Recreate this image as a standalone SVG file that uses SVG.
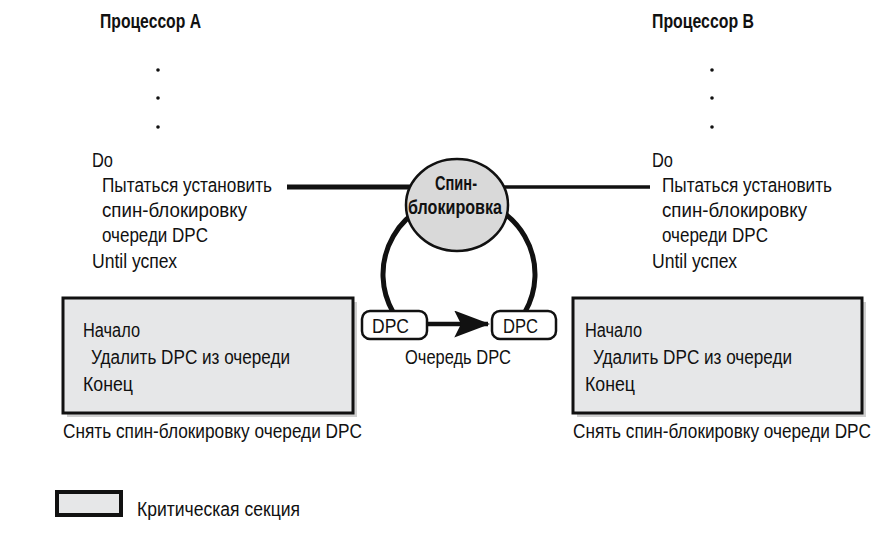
<svg xmlns="http://www.w3.org/2000/svg" width="886" height="534" viewBox="0 0 886 534">
<defs>
<style>
text{font-family:"Liberation Sans Narrow","Liberation Sans",Arial,sans-serif;font-size:20px;fill:#111;}
.b{font-weight:bold;}
.crit{fill:#e6e7e8;stroke:#111;stroke-width:3;}
.shadow{fill:#cfcfcf;}
.dpc{fill:#fff;stroke:#111;stroke-width:2.5;}
</style>
<marker id="ah" markerWidth="8" markerHeight="6" refX="7.5" refY="3" orient="auto" markerUnits="strokeWidth">
<path d="M0,0 L8,3 L0,6 L1.5,3 Z" fill="#111"/>
</marker>
</defs>
<rect width="886" height="534" fill="#fff"/>

<g id="connectors">
<line x1="287" y1="187" x2="420" y2="187" stroke="#111" stroke-width="5"/>
<line x1="495" y1="187" x2="650" y2="187" stroke="#111" stroke-width="3.5"/>
<path d="M393,312 A76,76 0 1 1 525,312" fill="none" stroke="#111" stroke-width="5"/>
<line x1="427" y1="324" x2="488" y2="324" stroke="#111" stroke-width="4.5" marker-end="url(#ah)"/>
</g>

<g id="processor-a">
<text x="100" y="28" class="b" textLength="101" lengthAdjust="spacingAndGlyphs">Процессор A</text>
<circle cx="158" cy="70" r="1.8" fill="#111"/>
<circle cx="158" cy="98" r="1.8" fill="#111"/>
<circle cx="158" cy="127" r="1.8" fill="#111"/>
<text x="92" y="167" textLength="21" lengthAdjust="spacingAndGlyphs">Do</text>
<text x="102" y="192" textLength="170" lengthAdjust="spacingAndGlyphs">Пытаться установить</text>
<text x="102" y="217" textLength="145" lengthAdjust="spacingAndGlyphs">спин-блокировку</text>
<text x="102" y="242" textLength="106" lengthAdjust="spacingAndGlyphs">очереди DPC</text>
<text x="92" y="268" textLength="85" lengthAdjust="spacingAndGlyphs">Until успех</text>
</g>

<g id="processor-b">
<text x="652" y="28" class="b" textLength="102" lengthAdjust="spacingAndGlyphs">Процессор B</text>
<circle cx="712" cy="70" r="1.8" fill="#111"/>
<circle cx="712" cy="98" r="1.8" fill="#111"/>
<circle cx="712" cy="127" r="1.8" fill="#111"/>
<text x="652" y="167" textLength="21" lengthAdjust="spacingAndGlyphs">Do</text>
<text x="662" y="192" textLength="170" lengthAdjust="spacingAndGlyphs">Пытаться установить</text>
<text x="662" y="217" textLength="145" lengthAdjust="spacingAndGlyphs">спин-блокировку</text>
<text x="662" y="242" textLength="106" lengthAdjust="spacingAndGlyphs">очереди DPC</text>
<text x="652" y="268" textLength="85" lengthAdjust="spacingAndGlyphs">Until успех</text>
</g>

<g id="spinlock">
<ellipse cx="457" cy="205" rx="51" ry="46" fill="#d9d9d9" stroke="#111" stroke-width="2.5"/>
<text x="456" y="190" class="b" text-anchor="middle" font-size="20" textLength="42" lengthAdjust="spacingAndGlyphs">Спин-</text>
<text x="455" y="214" class="b" text-anchor="middle" font-size="20" textLength="94" lengthAdjust="spacingAndGlyphs">блокировка</text>
</g>

<g id="dpc-1">
<rect x="362" y="311" width="65" height="28" rx="8" class="dpc"/>
<text x="372" y="333" textLength="37" lengthAdjust="spacingAndGlyphs">DPC</text>
</g>
<g id="dpc-2">
<rect x="492" y="311" width="64" height="28" rx="8" class="dpc"/>
<text x="503" y="333" textLength="35" lengthAdjust="spacingAndGlyphs">DPC</text>
</g>
<g id="queue-label">
<text x="405" y="364" textLength="106" lengthAdjust="spacingAndGlyphs">Очередь DPC</text>
</g>

<g id="critical-a">
<rect x="67" y="302" width="290" height="115" class="shadow"/>
<rect x="63" y="298" width="290" height="115" class="crit"/>
<text x="83" y="337" textLength="57" lengthAdjust="spacingAndGlyphs">Начало</text>
<text x="91" y="364" textLength="199" lengthAdjust="spacingAndGlyphs">Удалить DPC из очереди</text>
<text x="83" y="391" textLength="50" lengthAdjust="spacingAndGlyphs">Конец</text>
</g>
<g id="release-a">
<text x="63" y="438" font-size="19" textLength="299" lengthAdjust="spacingAndGlyphs">Снять спин-блокировку очереди DPC</text>
</g>

<g id="critical-b">
<rect x="577" y="302" width="289" height="115" class="shadow"/>
<rect x="573" y="298" width="289" height="115" class="crit"/>
<text x="585" y="337" textLength="57" lengthAdjust="spacingAndGlyphs">Начало</text>
<text x="593" y="364" textLength="199" lengthAdjust="spacingAndGlyphs">Удалить DPC из очереди</text>
<text x="585" y="391" textLength="50" lengthAdjust="spacingAndGlyphs">Конец</text>
</g>
<g id="release-b">
<text x="871" y="438" font-size="19" text-anchor="end" textLength="298" lengthAdjust="spacingAndGlyphs">Снять спин-блокировку очереди DPC</text>
</g>

<g id="legend">
<rect x="57" y="492" width="64" height="23" fill="#e6e7e8" stroke="#111" stroke-width="4"/>
<text x="137" y="516" font-size="17" textLength="163" lengthAdjust="spacingAndGlyphs">Критическая секция</text>
</g>
</svg>
